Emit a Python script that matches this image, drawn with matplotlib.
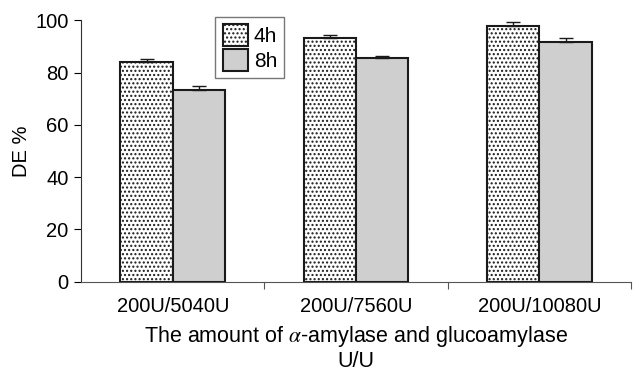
import numpy as np
import matplotlib.pyplot as plt

plt.rcParams['font.family'] = ['Liberation Sans', 'DejaVu Sans']
plt.rcParams['mathtext.fontset'] = 'stix'
plt.rcParams['hatch.color'] = '#a0a0a0'
plt.rcParams['hatch.linewidth'] = 1.0

# données
categories = ['200U/5040U', '200U/7560U', '200U/10080U']
de_4h = [84.0, 93.2, 98.0]
err_4h = [1.2, 1.3, 1.3]
de_8h = [73.5, 85.8, 91.8]
err_8h = [1.3, 0.7, 1.5]

x = np.arange(len(categories))
w = 0.285

fig = plt.figure(figsize=(6.33, 3.79), dpi=100)
ax = fig.add_axes([0.128, 0.257, 0.869, 0.689])

ax.bar(x - w / 2, de_4h, w, color='white', edgecolor='#1a1a1a', linewidth=1.5,
       hatch='....', label='4h')
ax.bar(x + w / 2, de_8h, w, color='#cfcfcf', edgecolor='#1a1a1a', linewidth=1.5,
       label='8h')
ax.errorbar(x - w / 2, de_4h, yerr=[np.zeros(3), err_4h], fmt='none',
            ecolor='#1a1a1a', elinewidth=1.0, capsize=5, capthick=1.0)
ax.errorbar(x + w / 2, de_8h, yerr=[np.zeros(3), err_8h], fmt='none',
            ecolor='#1a1a1a', elinewidth=1.0, capsize=5, capthick=1.0)

ax.set_xlim(-0.5, 2.5)
ax.set_ylim(0, 100)
ax.set_yticks(np.arange(0, 101, 20))
ax.set_xticks([0.5, 1.5, 2.5])
ax.set_xticklabels([])
ax.set_xticks(x, minor=True)
ax.set_xticklabels(categories, minor=True)
ax.tick_params(axis='x', which='minor', length=0, pad=11, labelsize=14.5)
ax.tick_params(axis='x', which='major', length=5, direction='out', color='#555555')
ax.tick_params(axis='y', length=5, direction='out', labelsize=14.5, pad=4)

for s in ['top', 'right']:
    ax.spines[s].set_visible(False)
ax.spines['left'].set_color('#333333')
ax.spines['bottom'].set_color('#555555')

ax.set_ylabel('DE %', fontsize=14.5, labelpad=3)
ax.set_xlabel('The amount of $\\alpha$-amylase and glucoamylase\nU/U',
              fontsize=15.5, labelpad=6, linespacing=1.1)

leg = ax.legend(loc='upper left', bbox_to_anchor=(0.244, 1.013), borderaxespad=0,
                fontsize=15, fancybox=False, edgecolor='#555555',
                handlelength=1.2, handleheight=1.2, handletextpad=0.3,
                borderpad=0.35, labelspacing=0.15)
leg.get_frame().set_linewidth(1.0)

fig.savefig('out.png', dpi=100)
